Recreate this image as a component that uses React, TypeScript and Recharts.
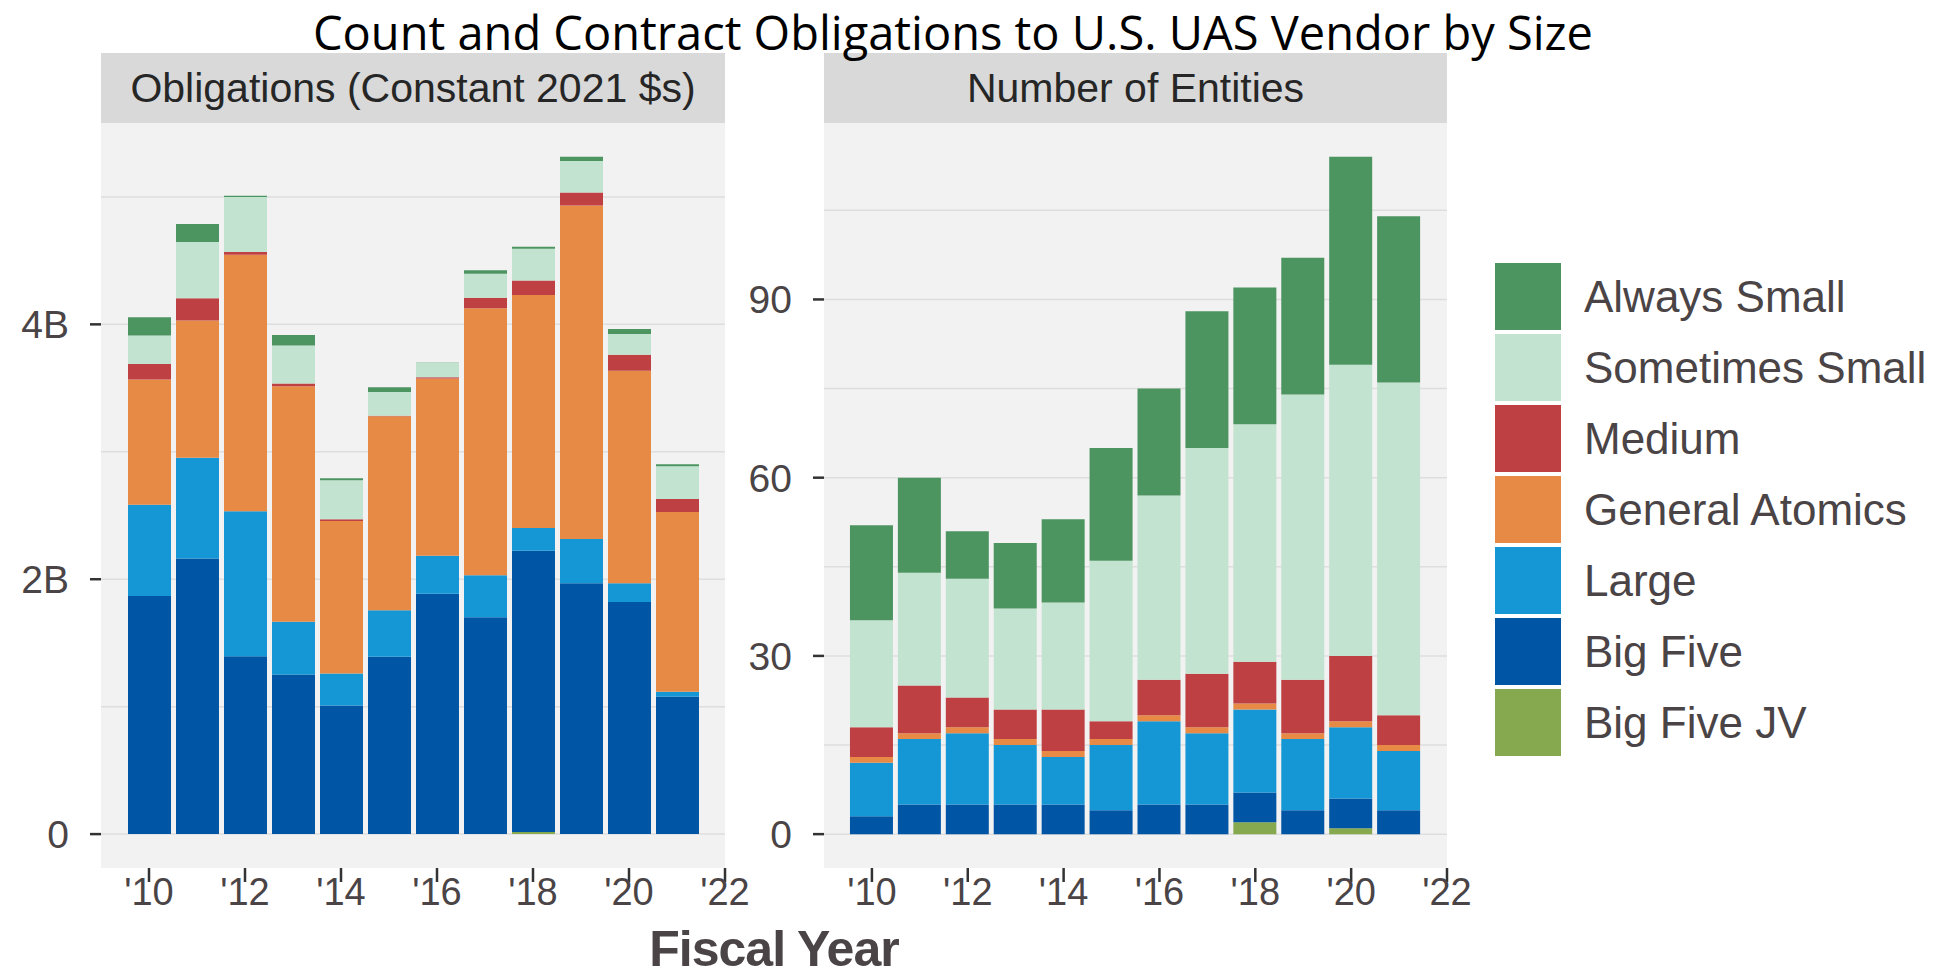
import React from 'react';
import { BarChart, Bar, XAxis, YAxis, CartesianGrid } from 'recharts';

// fiscal years shown on both panels
const YEARS = [2010, 2011, 2012, 2013, 2014, 2015, 2016, 2017, 2018, 2019, 2020, 2021];
const X_TICKS = [2010, 2012, 2014, 2016, 2018, 2020, 2022];

// stack order, bottom to top
const SERIES = ['Big Five JV', 'Big Five', 'Large', 'General Atomics', 'Medium', 'Sometimes Small', 'Always Small'];
const LEGEND_ORDER = [...SERIES].reverse();

const COLORS: Record<string, string> = {
    'Always Small': '#4C9460',
    'Sometimes Small': '#C2E3CF',
    'Medium': '#BF4043',
    'General Atomics': '#E68A45',
    'Large': '#1597D5',
    'Big Five': '#0055A5',
    'Big Five JV': '#86A84E',
};

// Obligations, billions of constant 2021 dollars
const OBL_BIG_FIVE_JV = [0, 0, 0, 0, 0, 0, 0, 0, 0.016, 0, 0, 0];
const OBL_BIG_FIVE = [1.868, 2.163, 1.396, 1.252, 1.01, 1.391, 1.887, 1.701, 2.207, 1.969, 1.822, 1.079];
const OBL_LARGE = [0.716, 0.79, 1.137, 0.415, 0.25, 0.366, 0.297, 0.33, 0.179, 0.346, 0.147, 0.039];
const OBL_GENERAL_ATOMICS = [0.983, 1.078, 2.013, 1.847, 1.197, 1.521, 1.391, 2.095, 1.829, 2.617, 1.666, 1.41];
const OBL_MEDIUM = [0.121, 0.174, 0.021, 0.021, 0.013, 0.005, 0.01, 0.083, 0.113, 0.102, 0.126, 0.102];
const OBL_SOMETIMES_SMALL = [0.225, 0.441, 0.433, 0.3, 0.307, 0.187, 0.113, 0.189, 0.249, 0.247, 0.163, 0.257];
const OBL_ALWAYS_SMALL = [0.142, 0.141, 0.01, 0.081, 0.016, 0.036, 0.003, 0.027, 0.016, 0.034, 0.039, 0.015];

// Number of entities
const ENT_BIG_FIVE_JV = [0, 0, 0, 0, 0, 0, 0, 0, 2, 0, 1, 0];
const ENT_BIG_FIVE = [3, 5, 5, 5, 5, 4, 5, 5, 5, 4, 5, 4];
const ENT_LARGE = [9, 11, 12, 10, 8, 11, 14, 12, 14, 12, 12, 10];
const ENT_GENERAL_ATOMICS = [1, 1, 1, 1, 1, 1, 1, 1, 1, 1, 1, 1];
const ENT_MEDIUM = [5, 8, 5, 5, 7, 3, 6, 9, 7, 9, 11, 5];
const ENT_SOMETIMES_SMALL = [18, 19, 20, 17, 18, 27, 31, 38, 40, 48, 49, 56];
const ENT_ALWAYS_SMALL = [16, 16, 8, 11, 14, 19, 18, 23, 23, 23, 35, 28];

const OBL_TICKS = [0, 2, 4];
const OBL_GRID = [0, 1, 2, 3, 4, 5];
const ENT_TICKS = [0, 30, 60, 90];
const ENT_GRID = [0, 15, 30, 45, 60, 75, 90, 105];

const buildRows = (cols: number[][]) =>
    YEARS.map((year, i) => {
        const row: any = { year };
        SERIES.forEach((s, k) => { row[s] = cols[k][i]; });
        return row;
    });

const oblRows = buildRows([OBL_BIG_FIVE_JV, OBL_BIG_FIVE, OBL_LARGE, OBL_GENERAL_ATOMICS, OBL_MEDIUM, OBL_SOMETIMES_SMALL, OBL_ALWAYS_SMALL]);
const entRows = buildRows([ENT_BIG_FIVE_JV, ENT_BIG_FIVE, ENT_LARGE, ENT_GENERAL_ATOMICS, ENT_MEDIUM, ENT_SOMETIMES_SMALL, ENT_ALWAYS_SMALL]);

const TEXT = '#4a4446';
const SANS = '"Liberation Sans", Arial, sans-serif';
const STRIP = '#D9D9D9';
const PANEL_BG = '#F2F2F2';

const PLOT_TOP = 123;
const PLOT_H = 745;
const RIGHT_PAD = 40;

const Panel = ({ left, yWidth, plotW, data, domain, ticks, grid, fmt, title }: any) => {
    const width = yWidth + plotW + RIGHT_PAD;
    return (
        <>
            <div
                style={{
                    position: 'absolute', left: left + yWidth, top: 53, width: plotW, height: 70,
                    background: STRIP, color: '#262626', fontFamily: SANS, fontSize: 41,
                    display: 'flex', alignItems: 'center', justifyContent: 'center', whiteSpace: 'nowrap',
                }}
            >
                {title}
            </div>
            <div style={{ position: 'absolute', left, top: PLOT_TOP }}>
                <BarChart width={width} height={PLOT_H + 50} data={data} margin={{ top: 0, right: RIGHT_PAD, bottom: 0, left: 0 }}>
                    <CartesianGrid vertical={false} horizontalValues={grid} fill={PANEL_BG} stroke="#DEDEDE" strokeWidth={1.5} />
                    <XAxis
                        dataKey="year"
                        type="number"
                        domain={[2009, 2022]}
                        allowDataOverflow
                        ticks={X_TICKS}
                        interval={0}
                        height={50}
                        axisLine={false}
                        tickSize={14}
                        tickMargin={-4}
                        tickLine={{ stroke: '#333333', strokeWidth: 2.5 }}
                        tick={{ fill: TEXT, fontSize: 38, fontFamily: SANS }}
                        tickFormatter={(v: number) => "'" + String(v).slice(2)}
                    />
                    <YAxis
                        type="number"
                        domain={domain}
                        allowDataOverflow
                        ticks={ticks}
                        interval={0}
                        width={yWidth}
                        axisLine={false}
                        tickSize={11}
                        tickMargin={21}
                        tickLine={{ stroke: '#333333', strokeWidth: 2.5 }}
                        tick={{ fill: TEXT, fontSize: 39, fontFamily: SANS }}
                        tickFormatter={fmt}
                    />
                    {SERIES.map((s) => (
                        <Bar key={s} dataKey={s} stackId="a" fill={COLORS[s]} barSize={43} isAnimationActive={false} />
                    ))}
                </BarChart>
            </div>
        </>
    );
};

export default function App() {
    return (
        <div style={{ position: 'absolute', left: 0, top: 0, width: 1936, height: 978, background: '#fff', overflow: 'hidden' }}>
            <Panel
                left={0}
                yWidth={101}
                plotW={624}
                data={oblRows}
                domain={[-0.266, 5.58]}
                ticks={OBL_TICKS}
                grid={OBL_GRID}
                fmt={(v: number) => (v === 0 ? '0' : `${v}B`)}
                title="Obligations (Constant 2021 $s)"
            />
            <Panel
                left={700}
                yWidth={124}
                plotW={623}
                data={entRows}
                domain={[-5.7, 119.7]}
                ticks={ENT_TICKS}
                grid={ENT_GRID}
                fmt={(v: number) => String(v)}
                title="Number of Entities"
            />

            {/* title sits above the strips so its descenders stay visible */}
            <div
                style={{
                    position: 'absolute', left: 0, width: 1906, top: 6, textAlign: 'center',
                    fontFamily: '"Open Sans", sans-serif', fontSize: 47, lineHeight: '52px', color: '#000',
                    whiteSpace: 'nowrap',
                }}
            >
                Count and Contract Obligations to U.S. UAS Vendor by Size
            </div>

            <div
                style={{
                    position: 'absolute', left: 101, width: 1346, top: 926, textAlign: 'center',
                    fontFamily: SANS, fontWeight: 'bold', fontSize: 50, lineHeight: '46px', letterSpacing: -1, color: TEXT,
                }}
            >
                Fiscal Year
            </div>

            {LEGEND_ORDER.map((s, i) => (
                <div key={s} style={{ position: 'absolute', left: 1495, top: 263 + i * 71, height: 67, display: 'flex', alignItems: 'center' }}>
                    <div style={{ width: 66, height: 67, background: COLORS[s] }} />
                    <span style={{ marginLeft: 23, fontFamily: SANS, fontSize: 44, color: TEXT, whiteSpace: 'nowrap' }}>{s}</span>
                </div>
            ))}
        </div>
    );
}
